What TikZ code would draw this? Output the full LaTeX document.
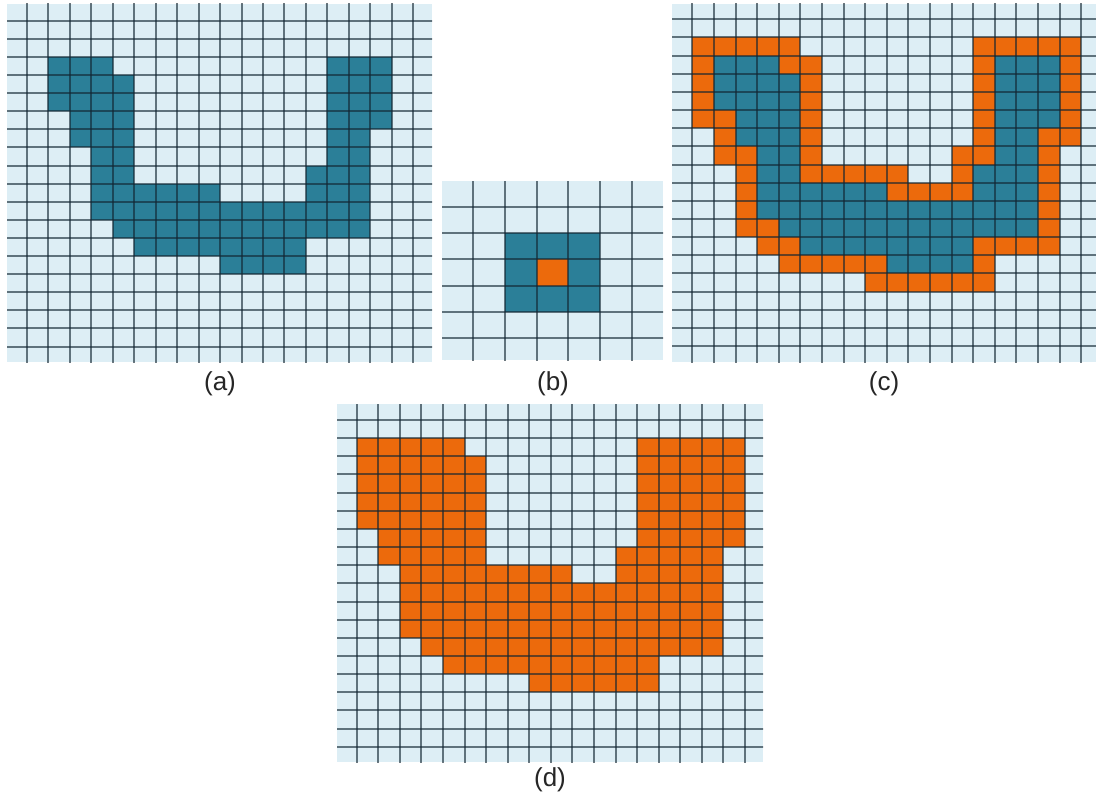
\documentclass[tikz,border=0pt]{standalone}
\usepackage{fontspec}
\setmainfont{Liberation Sans}
\definecolor{bgc}{RGB}{221,238,245}
\definecolor{tealc}{RGB}{43,127,152}
\definecolor{orangec}{RGB}{236,106,12}
\definecolor{linec}{RGB}{18,38,50}
\tikzset{
  gridline/.style={draw=linec,opacity=0.62,line width=2pt},
  lbl/.style={font=\fontsize{26}{30}\selectfont,inner sep=0pt,text=black!85}
}
\begin{document}
\begin{tikzpicture}[x=1pt,y=-1pt]
\useasboundingbox (0,0) rectangle (1096,800);
\fill[white] (0,0) rectangle (1096,800);

% ---------- panel (a)
\begin{scope}
\clip (7,4) rectangle (432,362);
\fill[bgc] (7,4) rectangle (432,362);
\begin{scope}[shift={(5.22,2.6)},x=21.48pt,y=-18.1pt]
\foreach \r/\a/\b in {3/2/4,3/15/17,4/2/5,4/15/17,5/2/5,5/15/17,6/3/5,6/15/17,7/3/5,7/15/16,8/4/5,8/15/16,9/4/5,9/14/16,10/4/9,10/14/16,11/4/16,12/5/16,13/6/13,14/10/13}
  \fill[tealc] (\a,\r) rectangle (\b+1,\r+1);
\foreach \k in {1,...,19} {
  \draw[gridline] (\k,-1) -- (\k,21);
  \draw[gridline] (-1,\k) -- (21,\k);
}
\end{scope}
\end{scope}

% ---------- panel (b)
\begin{scope}
\clip (442,181) rectangle (663,360);
\fill[bgc] (442,181) rectangle (663,360);
\begin{scope}[shift={(440.8,180.4)},x=31.9pt,y=-26.3pt]
\fill[tealc] (2,2) rectangle (5,5);
\fill[orangec] (3,3) rectangle (4,4);
\foreach \k in {1,...,6} {
  \draw[gridline] (\k,-1) -- (\k,8);
  \draw[gridline] (-1,\k) -- (8,\k);
}
\end{scope}
\end{scope}

% ---------- panel (c)
\begin{scope}
\clip (672,4) rectangle (1096,362);
\fill[bgc] (672,4) rectangle (1096,362);
\begin{scope}[shift={(670.7,1.15)},x=21.6pt,y=-18.15pt]
\foreach \r/\a/\b in {2/1/5,2/14/18,3/1/6,3/14/18,4/1/6,4/14/18,5/1/6,5/14/18,6/1/6,6/14/18,7/2/6,7/14/18,8/2/6,8/13/17,9/3/10,9/13/17,10/3/17,11/3/17,12/3/17,13/4/17,14/5/14,15/9/14}
  \fill[orangec] (\a,\r) rectangle (\b+1,\r+1);
\foreach \r/\a/\b in {3/2/4,3/15/17,4/2/5,4/15/17,5/2/5,5/15/17,6/3/5,6/15/17,7/3/5,7/15/16,8/4/5,8/15/16,9/4/5,9/14/16,10/4/9,10/14/16,11/4/16,12/5/16,13/6/13,14/10/13}
  \fill[tealc] (\a,\r) rectangle (\b+1,\r+1);
\foreach \k in {1,...,19} {
  \draw[gridline] (\k,-1) -- (\k,21);
  \draw[gridline] (-1,\k) -- (21,\k);
}
\end{scope}
\end{scope}

% ---------- panel (d)
\begin{scope}
\clip (337,404) rectangle (763,762);
\fill[bgc] (337,404) rectangle (763,762);
\begin{scope}[shift={(335.13,401.85)},x=21.57pt,y=-18.15pt]
\foreach \r/\a/\b in {2/1/5,2/14/18,3/1/6,3/14/18,4/1/6,4/14/18,5/1/6,5/14/18,6/1/6,6/14/18,7/2/6,7/14/18,8/2/6,8/13/17,9/3/10,9/13/17,10/3/17,11/3/17,12/3/17,13/4/17,14/5/14,15/9/14}
  \fill[orangec] (\a,\r) rectangle (\b+1,\r+1);
\foreach \k in {1,...,19} {
  \draw[gridline] (\k,-1) -- (\k,21);
  \draw[gridline] (-1,\k) -- (21,\k);
}
\end{scope}
\end{scope}

% ---------- labels
\node[lbl] (la) at (220,384) {(a)};
\node[lbl] (lb) at (553,384) {(b)};
\node[lbl] (lc) at (884,384) {(c)};
\node[lbl] (ld) at (550,780) {(d)};
\end{tikzpicture}
\end{document}
